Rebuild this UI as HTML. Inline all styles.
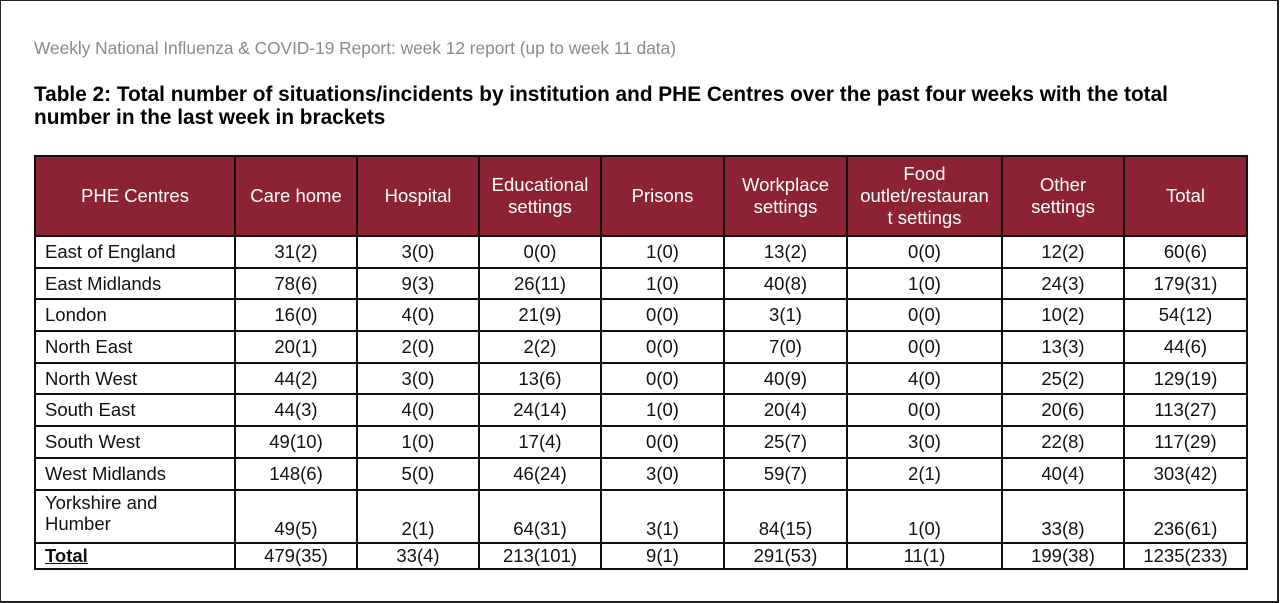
<!DOCTYPE html>
<html><head><meta charset="utf-8"><style>
body{margin:0;width:1280px;height:603px;background:#fff;font-family:"Liberation Sans",Arial,sans-serif;position:relative;overflow:hidden}
.frame{position:absolute;left:0;top:0;width:1276px;height:600px;border:1px solid #222;border-right-width:2px;border-bottom-width:2px}
.sub{position:absolute;left:34px;top:38px;font-size:17.3px;color:#8a8a8a}
.title{position:absolute;left:34px;top:83px;font-size:20.8px;font-weight:bold;line-height:23px;color:#000;width:1220px;white-space:nowrap}
table{position:absolute;left:34px;top:155px;border-collapse:collapse;table-layout:fixed;font-size:18.5px}
td,th{border:2px solid #111;padding:0;text-align:center;color:#111;line-height:22px}
th{background:#8b2332;color:#fff;font-weight:normal;height:78px}
td{height:29.7px}
td:first-child{text-align:left;padding-left:9px}
.yk td{height:48px;vertical-align:bottom;padding-bottom:2px}
.yk td:first-child{vertical-align:top;line-height:21px;padding-top:1px}
.tot td{height:24px;line-height:20px}
.tot td:first-child{font-weight:bold;text-decoration:underline}
</style></head><body>
<div class="frame"></div>
<div class="sub">Weekly National Influenza &amp; COVID-19 Report: week 12 report (up to week 11 data)</div>
<div class="title">Table 2: Total number of situations/incidents by institution and PHE Centres over the past four weeks with the total<br>number in the last week in brackets</div>
<table>
<colgroup><col style="width:200px"><col style="width:122px"><col style="width:122px"><col style="width:122px"><col style="width:123px"><col style="width:123px"><col style="width:155px"><col style="width:122px"><col style="width:123px"></colgroup>
<tr><th>PHE Centres</th><th>Care home</th><th>Hospital</th><th>Educational<br>settings</th><th>Prisons</th><th>Workplace<br>settings</th><th>Food<br>outlet/restauran<br>t settings</th><th>Other<br>settings</th><th>Total</th></tr>
<tr><td>East of England</td><td>31(2)</td><td>3(0)</td><td>0(0)</td><td>1(0)</td><td>13(2)</td><td>0(0)</td><td>12(2)</td><td>60(6)</td></tr>
<tr><td>East Midlands</td><td>78(6)</td><td>9(3)</td><td>26(11)</td><td>1(0)</td><td>40(8)</td><td>1(0)</td><td>24(3)</td><td>179(31)</td></tr>
<tr><td>London</td><td>16(0)</td><td>4(0)</td><td>21(9)</td><td>0(0)</td><td>3(1)</td><td>0(0)</td><td>10(2)</td><td>54(12)</td></tr>
<tr><td>North East</td><td>20(1)</td><td>2(0)</td><td>2(2)</td><td>0(0)</td><td>7(0)</td><td>0(0)</td><td>13(3)</td><td>44(6)</td></tr>
<tr><td>North West</td><td>44(2)</td><td>3(0)</td><td>13(6)</td><td>0(0)</td><td>40(9)</td><td>4(0)</td><td>25(2)</td><td>129(19)</td></tr>
<tr><td>South East</td><td>44(3)</td><td>4(0)</td><td>24(14)</td><td>1(0)</td><td>20(4)</td><td>0(0)</td><td>20(6)</td><td>113(27)</td></tr>
<tr><td>South West</td><td>49(10)</td><td>1(0)</td><td>17(4)</td><td>0(0)</td><td>25(7)</td><td>3(0)</td><td>22(8)</td><td>117(29)</td></tr>
<tr><td>West Midlands</td><td>148(6)</td><td>5(0)</td><td>46(24)</td><td>3(0)</td><td>59(7)</td><td>2(1)</td><td>40(4)</td><td>303(42)</td></tr>
<tr class="yk"><td>Yorkshire and<br>Humber</td><td>49(5)</td><td>2(1)</td><td>64(31)</td><td>3(1)</td><td>84(15)</td><td>1(0)</td><td>33(8)</td><td>236(61)</td></tr>
<tr class="tot"><td>Total</td><td>479(35)</td><td>33(4)</td><td>213(101)</td><td>9(1)</td><td>291(53)</td><td>11(1)</td><td>199(38)</td><td>1235(233)</td></tr>
</table>
</body></html>
